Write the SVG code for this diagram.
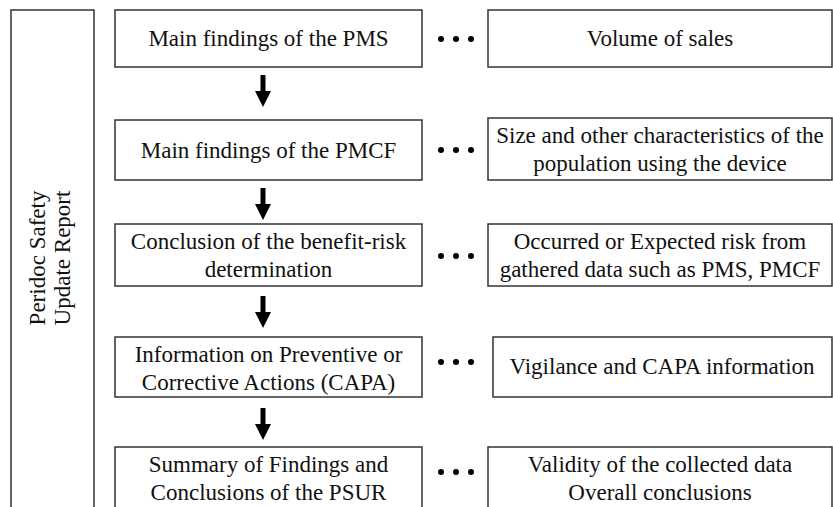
<svg xmlns="http://www.w3.org/2000/svg" width="833" height="507" viewBox="0 0 833 507">
<defs>
<g id="dots" fill="#000"><circle cx="0" cy="0" r="3"/><circle cx="15" cy="0" r="3"/><circle cx="30" cy="0" r="3"/></g>
<path id="arrow" fill="#000" d="M-2.5,0 H2.5 V16 H8 L0,32 L-8,16 H-2.5 Z"/>
</defs>
<rect width="833" height="507" fill="#fff"/>
<g id="outer-report">
<rect x="11" y="10" width="83" height="510" fill="#fff" stroke="#333" stroke-width="1.5"/>
<text style="font-family:'Liberation Serif',serif;font-size:23px" text-anchor="middle" fill="#111" transform="translate(45,258) rotate(-90)">Peridoc Safety</text>
<text style="font-family:'Liberation Serif',serif;font-size:23px" text-anchor="middle" fill="#111" transform="translate(70,258) rotate(-90)">Update Report</text>
</g>
<g id="pms-findings"><rect x="115" y="10" width="307" height="57" fill="#fff" stroke="#333" stroke-width="1.5"/><text style="font-family:'Liberation Serif',serif;font-size:23px" text-anchor="middle" fill="#111" transform="translate(268.5,46)">Main findings of the PMS</text></g>
<g id="pmcf-findings"><rect x="115" y="120" width="307" height="60" fill="#fff" stroke="#333" stroke-width="1.5"/><text style="font-family:'Liberation Serif',serif;font-size:23px" text-anchor="middle" fill="#111" transform="translate(268.5,158)">Main findings of the PMCF</text></g>
<g id="benefit-risk"><rect x="115" y="224" width="307" height="62" fill="#fff" stroke="#333" stroke-width="1.5"/><text style="font-family:'Liberation Serif',serif;font-size:23px" text-anchor="middle" fill="#111" transform="translate(268.5,249)">Conclusion of the benefit-risk</text><text style="font-family:'Liberation Serif',serif;font-size:23px" text-anchor="middle" fill="#111" transform="translate(268.5,277)">determination</text></g>
<g id="capa-info"><rect x="115" y="337" width="307" height="60" fill="#fff" stroke="#333" stroke-width="1.5"/><text style="font-family:'Liberation Serif',serif;font-size:23px" text-anchor="middle" fill="#111" transform="translate(268.5,362)">Information on Preventive or</text><text style="font-family:'Liberation Serif',serif;font-size:23px" text-anchor="middle" fill="#111" transform="translate(268.5,390)">Corrective Actions (CAPA)</text></g>
<g id="psur-summary"><rect x="115" y="447" width="307" height="80" fill="#fff" stroke="#333" stroke-width="1.5"/><text style="font-family:'Liberation Serif',serif;font-size:23px" text-anchor="middle" fill="#111" transform="translate(268.5,472)">Summary of Findings and</text><text style="font-family:'Liberation Serif',serif;font-size:23px" text-anchor="middle" fill="#111" transform="translate(268.5,500)">Conclusions of the PSUR</text></g>
<g id="sales-volume"><rect x="488" y="10" width="344" height="57" fill="#fff" stroke="#333" stroke-width="1.5"/><text style="font-family:'Liberation Serif',serif;font-size:23px" text-anchor="middle" fill="#111" transform="translate(660,46)">Volume of sales</text></g>
<g id="population"><rect x="488" y="118" width="344" height="62" fill="#fff" stroke="#333" stroke-width="1.5"/><text style="font-family:'Liberation Serif',serif;font-size:23px" text-anchor="middle" fill="#111" transform="translate(660,143)">Size and other characteristics of the</text><text style="font-family:'Liberation Serif',serif;font-size:23px" text-anchor="middle" fill="#111" transform="translate(660,171)">population using the device</text></g>
<g id="risk-data"><rect x="488" y="224" width="344" height="62" fill="#fff" stroke="#333" stroke-width="1.5"/><text style="font-family:'Liberation Serif',serif;font-size:23px" text-anchor="middle" fill="#111" transform="translate(660,249)">Occurred or Expected risk from</text><text style="font-family:'Liberation Serif',serif;font-size:23px" text-anchor="middle" fill="#111" transform="translate(660,277)">gathered data such as PMS, PMCF</text></g>
<g id="vigilance"><rect x="493" y="337" width="339" height="60" fill="#fff" stroke="#333" stroke-width="1.5"/><text style="font-family:'Liberation Serif',serif;font-size:23px" text-anchor="middle" fill="#111" transform="translate(662,374)">Vigilance and CAPA information</text></g>
<g id="validity"><rect x="488" y="447" width="344" height="80" fill="#fff" stroke="#333" stroke-width="1.5"/><text style="font-family:'Liberation Serif',serif;font-size:23px" text-anchor="middle" fill="#111" transform="translate(660,472)">Validity of the collected data</text><text style="font-family:'Liberation Serif',serif;font-size:23px" text-anchor="middle" fill="#111" transform="translate(660,500)">Overall conclusions</text></g>
<g id="connectors">
<use href="#arrow" x="263" y="75"/>
<use href="#arrow" x="263" y="188"/>
<use href="#arrow" x="263" y="296"/>
<use href="#arrow" x="263" y="408"/>
<use href="#dots" x="441" y="39"/>
<use href="#dots" x="441" y="150"/>
<use href="#dots" x="441" y="256"/>
<use href="#dots" x="441" y="362"/>
<use href="#dots" x="441" y="472"/>
</g>
</svg>
